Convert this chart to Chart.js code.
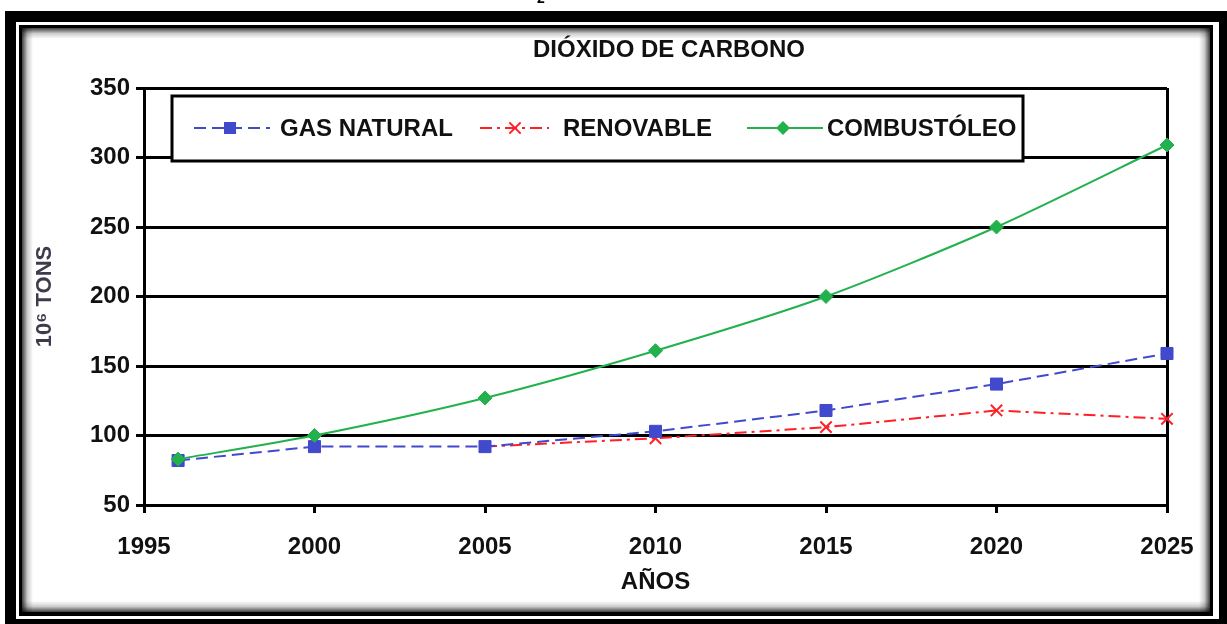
<!DOCTYPE html>
<html>
<head>
<meta charset="utf-8">
<script src="https://cdn.jsdelivr.net/npm/chart.js@4.4.1/dist/chart.umd.min.js"></script>
<style>
html,body{margin:0;padding:0;background:#fff;}
canvas{display:block;}
</style>
</head>
<body>
<canvas id="c" width="1227" height="624"></canvas>
<script>
const years = [1996, 2000, 2005, 2010, 2015, 2020, 2025];
const gasNatural = [82, 92, 92, 103, 118, 137, 159];
const renovable = [null, null, 92, 98, 106, 118, 112];
const combustoleo = [83, 100, 127, 161, 200, 250, 309];
const seriesNames = ['GAS NATURAL', 'RENOVABLE', 'COMBUSTÓLEO'];
const chartTitle = 'DIÓXIDO DE CARBONO';
const xTitle = 'AÑOS';
const yTitle = '10⁶ TONS';

const FONT = "'Liberation Sans', Arial, sans-serif";
const toPts = arr => years.map((yr, i) => ({x: yr, y: arr[i]}));

function drawMarker(ctx, style, x, y, r, color) {
  ctx.save();
  ctx.fillStyle = color; ctx.strokeStyle = color; ctx.setLineDash([]);
  ctx.beginPath();
  if (style === 'rect') {
    const s = r * Math.SQRT1_2;
    ctx.rect(x - s, y - s, 2 * s, 2 * s); ctx.fill();
  } else if (style === 'rectRot') {
    ctx.moveTo(x, y - r); ctx.lineTo(x + r, y); ctx.lineTo(x, y + r); ctx.lineTo(x - r, y); ctx.closePath(); ctx.fill();
  } else if (style === 'crossRot') {
    const s = r * Math.SQRT1_2;
    ctx.lineWidth = 2;
    ctx.moveTo(x - s, y - s); ctx.lineTo(x + s, y + s);
    ctx.moveTo(x + s, y - s); ctx.lineTo(x - s, y + s); ctx.stroke();
  }
  ctx.restore();
}

const framePlugin = {
  id: 'frame',
  beforeDraw(chart) {
    const ctx = chart.ctx, W = chart.width, H = chart.height;
    ctx.save();
    ctx.fillStyle = '#fff'; ctx.fillRect(0, 0, W, H);
    ctx.fillStyle = '#000'; ctx.fillRect(5, 11, W - 5, H - 11);
    ctx.fillStyle = '#fff'; ctx.fillRect(16, 22, 1219 - 16, 619 - 22);
    ctx.fillStyle = '#000'; ctx.fillRect(19, 25, 1213 - 19, 616 - 25);
    ctx.fillStyle = '#fff'; ctx.fillRect(22, 28, 1210 - 22, 612 - 28);
    const L = 22, T = 28, R = 1210, B = 612, g = 11;
    const mk = (x0, y0, x1, y1) => {
      const gr = ctx.createLinearGradient(x0, y0, x1, y1);
      gr.addColorStop(0, 'rgba(0,0,0,0.75)');
      gr.addColorStop(0.5, 'rgba(0,0,0,0.2)');
      gr.addColorStop(1, 'rgba(0,0,0,0)');
      return gr;
    };
    ctx.fillStyle = mk(L, 0, L + g, 0); ctx.fillRect(L, T, g, B - T);
    ctx.fillStyle = mk(0, T, 0, T + g); ctx.fillRect(L, T, R - L, g);
    ctx.fillStyle = mk(R, 0, R - g, 0); ctx.fillRect(R - g, T, g, B - T);
    ctx.fillStyle = mk(0, B, 0, B - g); ctx.fillRect(L, B - g, R - L, g);
    // clipped fragment of a subscript above the frame
    ctx.fillStyle = '#000';
    ctx.font = 'bold 14px ' + FONT;
    ctx.textAlign = 'center'; ctx.textBaseline = 'alphabetic';
    ctx.fillText('2', 541, 3);
    ctx.restore();
  },
  afterDraw(chart) {
    const ctx = chart.ctx;
    ctx.save();
    // title
    ctx.fillStyle = '#111';
    ctx.font = 'bold 24px ' + FONT;
    ctx.textAlign = 'center'; ctx.textBaseline = 'middle';
    ctx.fillText(chartTitle, 669, 50);
    // legend box
    ctx.fillStyle = '#fff';
    ctx.fillRect(172, 96, 851, 65);
    ctx.strokeStyle = '#000'; ctx.lineWidth = 3;
    ctx.strokeRect(172, 96, 851, 65);
    const items = [
      {x0: 194, x1: 270, mx: 230, tx: 280},
      {x0: 480, x1: 549, mx: 515, tx: 563},
      {x0: 747, x1: 823, mx: 783, tx: 827}
    ];
    const ly = 128;
    chart.data.datasets.forEach((ds, i) => {
      const it = items[i];
      ctx.save();
      ctx.strokeStyle = ds.borderColor; ctx.lineWidth = ds.borderWidth;
      ctx.setLineDash(ds.borderDash || []);
      ctx.beginPath(); ctx.moveTo(it.x0, ly); ctx.lineTo(it.x1, ly); ctx.stroke();
      ctx.restore();
      drawMarker(ctx, ds.pointStyle, it.mx, ly, ds.pointRadius, ds.borderColor);
      ctx.fillStyle = '#111';
      ctx.font = 'bold 24px ' + FONT;
      ctx.textAlign = 'left'; ctx.textBaseline = 'middle';
      ctx.fillText(ds.label, it.tx, ly + 1);
    });
    ctx.restore();
  }
};

const BLUE = '#4149cc', RED = '#ff1f26', GREEN = '#22b14c';

new Chart(document.getElementById('c'), {
  type: 'line',
  data: {
    datasets: [
      {label: seriesNames[0], data: toPts(gasNatural), borderColor: BLUE, backgroundColor: BLUE,
       borderWidth: 2, borderDash: [12, 6], pointStyle: 'rect', pointRadius: 8.5,
       pointBackgroundColor: BLUE, pointBorderColor: BLUE, pointBorderWidth: 1, tension: 0, clip: false, order: 1},
      {label: seriesNames[1], data: toPts(renovable), borderColor: RED, backgroundColor: RED,
       borderWidth: 2, borderDash: [12, 5, 3, 5], pointStyle: 'crossRot', pointRadius: 8,
       pointBackgroundColor: RED, pointBorderColor: RED, pointBorderWidth: 2, tension: 0, clip: false, order: 2, spanGaps: false},
      {label: seriesNames[2], data: toPts(combustoleo), borderColor: GREEN, backgroundColor: GREEN,
       borderWidth: 2, pointStyle: 'rectRot', pointRadius: 7,
       pointBackgroundColor: GREEN, pointBorderColor: GREEN, pointBorderWidth: 1, tension: 0.25, clip: false, order: 0}
    ]
  },
  options: {
    responsive: false,
    animation: false,
    devicePixelRatio: 1,
    layout: {padding: {top: 88, right: 60, bottom: 0, left: 0}},
    plugins: {legend: {display: false}, title: {display: false}, tooltip: {enabled: false}},
    scales: {
      x: {
        type: 'linear', min: 1995, max: 2025,
        afterFit(s) { s.height = 119; },
        ticks: {stepSize: 5, color: '#111', padding: 20, maxRotation: 0,
                font: {family: FONT, size: 24, weight: 'bold'},
                callback: v => String(v)},
        grid: {color: c => (c.tick && c.tick.value === 2025) ? '#000' : 'rgba(0,0,0,0)',
               tickColor: '#000', lineWidth: 3, tickWidth: 3, tickLength: 8},
        border: {color: '#000', width: 3},
        title: {display: true, text: xTitle, color: '#111',
                font: {family: FONT, size: 24, weight: 'bold'}, padding: {top: 0, bottom: 27}}
      },
      y: {
        min: 50, max: 350,
        afterFit(s) { s.width = 144; },
        ticks: {stepSize: 50, color: '#111', padding: 6,
                font: {family: FONT, size: 24, weight: 'bold'}},
        grid: {color: '#000', lineWidth: 3, tickColor: '#000', tickWidth: 3, tickLength: 8},
        border: {color: '#000', width: 3},
        title: {display: true, text: yTitle, color: '#3c3c4c',
                font: {family: FONT, size: 22, weight: 'bold'}, padding: {top: 32, bottom: 0}}
      }
    }
  },
  plugins: [framePlugin]
});
</script>
</body>
</html>
